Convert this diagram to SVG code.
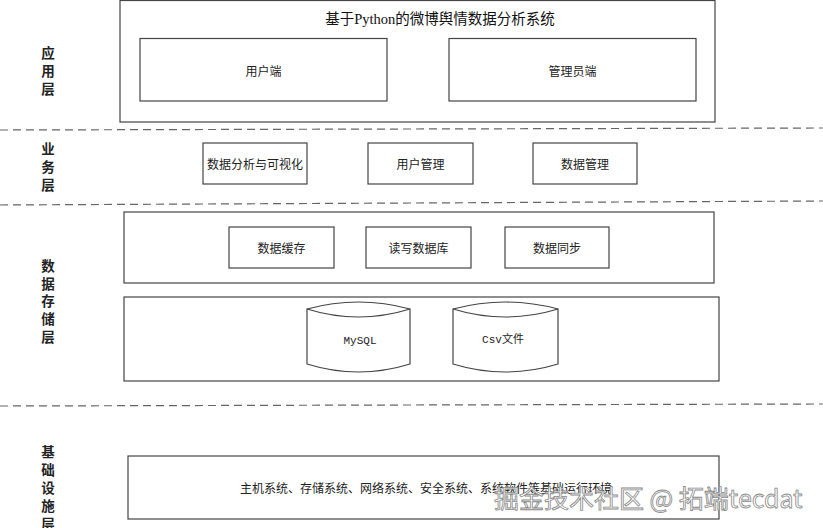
<svg xmlns="http://www.w3.org/2000/svg" width="823" height="528" viewBox="0 0 823 528">
<style>
.bg{fill:#fff}
.box{fill:#fff;stroke:#444;stroke-width:1.2}
.dash{stroke:#666;stroke-width:1.2;stroke-dasharray:8,5;fill:none}
.lbl{font-family:"Noto Sans CJK SC","Liberation Sans",sans-serif;font-size:12px;fill:#222;text-anchor:middle;dominant-baseline:central}
.layer{font-family:"Noto Sans CJK SC",sans-serif;font-size:13.5px;font-weight:bold;fill:#222;text-anchor:middle;dominant-baseline:central}
.title{font-family:"Liberation Serif","Noto Sans CJK SC",serif;font-size:14.5px;fill:#111;text-anchor:middle;dominant-baseline:central}
.mono{font-family:"Liberation Mono","Noto Sans CJK SC",monospace;font-size:11px;fill:#222;text-anchor:middle;dominant-baseline:central}
.wm{font-family:"Noto Sans CJK SC","Liberation Sans",sans-serif;font-size:25px;fill:#fff;stroke:#888;stroke-width:0.8;dominant-baseline:central}
</style>
<rect class="bg" x="0" y="0" width="823" height="528"/>
<g id="layer-labels">
<text class="layer" x="48" y="52">应</text><text class="layer" x="48" y="70">用</text><text class="layer" x="48" y="88">层</text>
<text class="layer" x="48" y="148">业</text><text class="layer" x="48" y="166">务</text><text class="layer" x="48" y="184">层</text>
<text class="layer" x="48" y="265">数</text><text class="layer" x="48" y="283">据</text><text class="layer" x="48" y="300">存</text><text class="layer" x="48" y="318">储</text><text class="layer" x="48" y="336">层</text>
<text class="layer" x="48" y="451">基</text><text class="layer" x="48" y="469">础</text><text class="layer" x="48" y="487">设</text><text class="layer" x="48" y="505">施</text><text class="layer" x="48" y="523">层</text>
</g>
<g id="connectors">
<line class="dash" x1="0" y1="130" x2="823" y2="128"/>
<line class="dash" x1="0" y1="205" x2="823" y2="201"/>
<line class="dash" x1="0" y1="406" x2="823" y2="404"/>
</g>
<g id="app-layer">
<rect class="box" x="120" y="0.5" width="595" height="121.5"/>
<text class="title" x="440" y="19">基于Python的微博舆情数据分析系统</text>
</g>
<g id="user-end"><rect class="box" x="140" y="38.5" width="247" height="62.5"/><text class="lbl" x="263.5" y="70">用户端</text></g>
<g id="admin-end"><rect class="box" x="449" y="38.5" width="247" height="62.5"/><text class="lbl" x="572.5" y="70">管理员端</text></g>
<g id="biz-analysis"><rect class="box" x="203" y="143" width="104" height="41"/><text class="lbl" x="255" y="163">数据分析与可视化</text></g>
<g id="biz-user"><rect class="box" x="368" y="143" width="105" height="41"/><text class="lbl" x="420.5" y="163">用户管理</text></g>
<g id="biz-data"><rect class="box" x="533" y="143" width="104" height="41"/><text class="lbl" x="585" y="163">数据管理</text></g>
<g id="storage-top"><rect class="box" x="124" y="212" width="590" height="71"/></g>
<g id="data-cache"><rect class="box" x="229" y="227" width="105" height="41"/><text class="lbl" x="281.5" y="247">数据缓存</text></g>
<g id="rw-db"><rect class="box" x="366" y="227" width="105" height="41"/><text class="lbl" x="418.5" y="247">读写数据库</text></g>
<g id="data-sync"><rect class="box" x="505" y="227" width="104" height="41"/><text class="lbl" x="557" y="247">数据同步</text></g>
<g id="storage-bottom"><rect class="box" x="124" y="297" width="595" height="84"/></g>
<g id="mysql">
<path class="box" d="M307,309 Q358.5,295 410,309 L410,364 Q358.5,380 307,364 Z"/>
<path class="box" d="M307,309 Q358.5,325 410,309" fill="none"/>
<text class="mono" x="360" y="341">MySQL</text>
</g>
<g id="csv">
<path class="box" d="M453,309 Q505.5,295 558,309 L558,364 Q505.5,380 453,364 Z"/>
<path class="box" d="M453,309 Q505.5,325 558,309" fill="none"/>
<text class="mono" x="503" y="340">Csv文件</text>
</g>
<g id="infra">
<rect class="box" x="128" y="456" width="591" height="63"/>
<text class="lbl" x="240" y="487" style="text-anchor:start">主机系统、存储系统、网络系统、安全系统、系统软件等基础运行环境</text>
</g>
<text class="wm" x="494" y="497">掘金技术社区 @ 拓端tecdat</text>
</svg>
